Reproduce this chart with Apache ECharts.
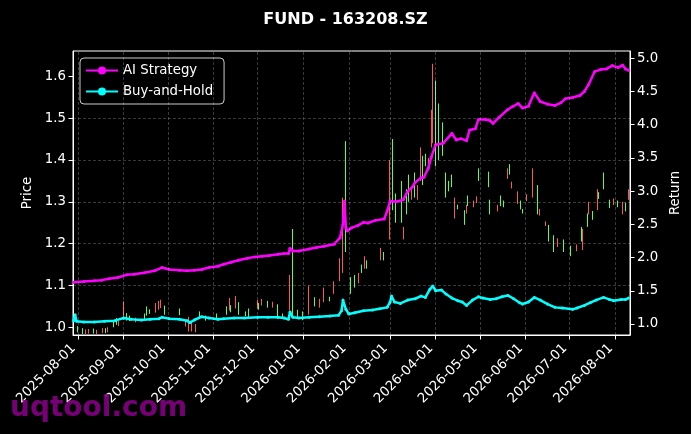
<!DOCTYPE html>
<html><head><meta charset="utf-8">
<script src="https://cdn.jsdelivr.net/npm/echarts@6/dist/echarts.min.js"></script>
<style>html,body{margin:0;padding:0;background:#000}#c{width:691px;height:434px}</style>
</head><body><div id="c"></div>
<script>
const chartTitle = 'FUND - 163208.SZ';
const watermark = 'uqtool.com';
const xTicks = ['2025-08-01','2025-09-01','2025-10-01','2025-11-01','2025-12-01','2026-01-01','2026-02-01','2026-03-01','2026-04-01','2026-05-01','2026-06-01','2026-07-01','2026-08-01'];
const priceTicks = [1.0,1.1,1.2,1.3,1.4,1.5,1.6];
const returnTicks = [1.0,1.5,2.0,2.5,3.0,3.5,4.0,4.5,5.0];

const candleDates = ['2025-08-01','2025-08-04','2025-08-06','2025-08-08','2025-08-12','2025-08-14','2025-08-18','2025-08-20','2025-08-21','2025-08-25','2025-08-27','2025-08-29',
'2025-09-01','2025-09-03','2025-09-05','2025-09-09','2025-09-15','2025-09-17','2025-09-19','2025-09-23','2025-09-25','2025-09-26','2025-09-29',
'2025-10-09','2025-10-13','2025-10-15','2025-10-17','2025-10-20','2025-10-23','2025-10-27',
'2025-11-03','2025-11-10','2025-11-12','2025-11-13','2025-11-16','2025-11-18','2025-11-23','2025-11-25',
'2025-12-01','2025-12-02','2025-12-04','2025-12-08','2025-12-11','2025-12-15','2025-12-18','2025-12-23','2025-12-25','2025-12-28',
'2026-01-01','2026-01-05','2026-01-09','2026-01-12','2026-01-15','2026-01-19','2026-01-22','2026-01-26','2026-01-28','2026-01-30',
'2026-02-02','2026-02-05','2026-02-08','2026-02-10','2026-02-12','2026-02-13','2026-02-23','2026-02-25',
'2026-03-01','2026-03-03','2026-03-05','2026-03-09','2026-03-10','2026-03-12','2026-03-14','2026-03-16','2026-03-18','2026-03-20','2026-03-22','2026-03-23','2026-03-25','2026-03-27','2026-03-29','2026-03-30',
'2026-04-01','2026-04-03','2026-04-06','2026-04-08','2026-04-10','2026-04-12','2026-04-14','2026-04-16','2026-04-21','2026-04-22','2026-04-23','2026-04-27','2026-04-29','2026-04-30',
'2026-05-07','2026-05-08','2026-05-13','2026-05-15','2026-05-17','2026-05-20','2026-05-21','2026-05-23','2026-05-27','2026-05-29','2026-05-30',
'2026-06-02','2026-06-06','2026-06-09','2026-06-11','2026-06-15','2026-06-17','2026-06-20','2026-06-23','2026-06-27',
'2026-07-02','2026-07-06','2026-07-09','2026-07-10','2026-07-13','2026-07-14','2026-07-17','2026-07-20','2026-07-21','2026-07-24','2026-07-28','2026-07-31',
'2026-08-03','2026-08-06','2026-08-08','2026-08-10'];
const candleOpen = [1.000,0.995,0.985,0.987,0.995,0.986,0.988,0.996,0.990,1.012,1.020,1.005,
1.030,1.030,1.025,1.015,1.030,1.045,1.040,1.040,1.045,1.050,1.050,
1.040,1.005,0.998,0.995,0.997,1.035,1.025,
1.030,1.045,1.045,1.050,1.050,1.055,1.035,1.040,
1.050,1.055,1.055,1.060,1.050,1.050,1.030,1.060,1.150,1.040,
1.035,1.040,1.070,1.050,1.070,1.070,1.090,1.120,1.160,1.300,
1.110,1.120,1.110,1.145,1.145,1.155,1.170,1.175,
1.220,1.400,1.300,1.330,1.215,1.320,1.360,1.310,1.350,1.310,1.360,1.400,1.410,1.380,1.450,1.470,
1.570,1.520,1.470,1.360,1.345,1.360,1.270,1.290,1.270,1.275,1.310,1.290,1.300,1.375,
1.370,1.300,1.280,1.310,1.300,1.360,1.380,1.335,1.300,1.300,1.280,
1.305,1.320,1.330,1.270,1.245,1.240,1.215,1.195,1.205,
1.190,1.185,1.235,1.190,1.270,1.280,1.275,1.285,1.320,1.360,1.300,1.295,
1.300,1.275,1.295,1.310];
const candleClose = [0.992,0.988,0.992,0.993,0.988,0.992,0.995,0.989,0.998,1.004,1.010,1.012,
1.055,1.020,1.018,1.020,1.020,1.030,1.035,1.055,1.060,1.065,1.035,
1.030,1.015,1.020,1.010,1.005,1.025,1.020,
1.022,1.035,1.065,1.040,1.070,1.035,1.030,1.030,
1.060,1.045,1.065,1.050,1.058,1.030,1.025,1.110,1.050,1.025,
1.020,1.080,1.055,1.065,1.090,1.065,1.105,1.155,1.290,1.200,
1.085,1.100,1.125,1.135,1.165,1.145,1.185,1.165,
1.380,1.300,1.270,1.270,1.235,1.280,1.310,1.325,1.330,1.330,1.420,1.350,1.390,1.400,1.510,1.600,
1.420,1.440,1.430,1.320,1.330,1.340,1.300,1.285,1.250,1.290,1.295,1.300,1.310,1.355,
1.345,1.280,1.290,1.295,1.290,1.375,1.370,1.345,1.320,1.285,1.275,
1.315,1.370,1.290,1.280,1.250,1.215,1.190,1.210,1.185,
1.175,1.195,1.215,1.230,1.245,1.295,1.260,1.320,1.310,1.335,1.290,1.305,
1.290,1.295,1.280,1.325];
const candleLow = [0.988,0.984,0.983,0.985,0.985,0.984,0.986,0.986,0.988,1.000,1.006,1.003,
1.025,1.016,1.015,1.012,1.017,1.028,1.032,1.035,1.042,1.046,1.030,
1.029,1.002,0.990,0.990,0.988,1.020,1.016,
1.018,1.030,1.040,1.036,1.045,1.030,1.027,1.025,
1.045,1.042,1.052,1.047,1.047,1.020,1.022,1.040,1.030,1.020,
1.017,1.030,1.050,1.047,1.060,1.062,1.080,1.110,1.130,1.180,
1.080,1.095,1.105,1.130,1.140,1.140,1.160,1.160,
1.210,1.280,1.250,1.250,1.210,1.270,1.300,1.305,1.310,1.305,1.350,1.340,1.385,1.375,1.430,1.440,
1.385,1.400,1.410,1.310,1.325,1.335,1.260,1.282,1.245,1.272,1.290,1.287,1.297,1.350,
1.335,1.270,1.277,1.290,1.287,1.355,1.365,1.332,1.295,1.282,1.272,
1.302,1.310,1.270,1.267,1.242,1.205,1.180,1.192,1.180,
1.170,1.182,1.205,1.185,1.240,1.270,1.257,1.280,1.307,1.330,1.285,1.292,
1.287,1.270,1.277,1.305];
const candleHigh = [1.003,0.998,0.995,0.996,0.997,0.994,0.998,0.998,1.000,1.015,1.022,1.015,
1.062,1.034,1.028,1.023,1.033,1.050,1.043,1.058,1.063,1.066,1.052,
1.045,1.018,1.025,1.015,1.008,1.038,1.028,
1.033,1.050,1.070,1.053,1.075,1.060,1.038,1.045,
1.065,1.058,1.068,1.063,1.061,1.055,1.033,1.125,1.235,1.042,
1.038,1.100,1.072,1.068,1.095,1.073,1.110,1.165,1.310,1.445,
1.120,1.125,1.130,1.150,1.170,1.160,1.190,1.180,
1.400,1.450,1.320,1.350,1.240,1.330,1.365,1.330,1.370,1.340,1.430,1.410,1.415,1.405,1.520,1.630,
1.590,1.535,1.490,1.370,1.350,1.365,1.310,1.293,1.280,1.293,1.315,1.303,1.313,1.380,
1.372,1.305,1.293,1.315,1.303,1.380,1.390,1.348,1.325,1.303,1.283,
1.318,1.380,1.340,1.283,1.253,1.245,1.220,1.213,1.210,
1.195,1.198,1.240,1.235,1.272,1.300,1.278,1.330,1.323,1.370,1.305,1.308,
1.303,1.300,1.298,1.330];

const aiDates = ['2025-07-29','2025-08-05','2025-08-12','2025-08-17','2025-08-22','2025-08-28','2025-09-03','2025-09-08','2025-09-15','2025-09-22','2025-09-27',
'2025-10-02','2025-10-09','2025-10-14','2025-10-19','2025-10-24','2025-10-29','2025-11-04','2025-11-08','2025-11-13','2025-11-18','2025-11-24','2025-11-29',
'2025-12-04','2025-12-09','2025-12-15','2025-12-19','2025-12-22','2025-12-23','2025-12-25','2025-12-29',
'2026-01-05','2026-01-10','2026-01-15','2026-01-22','2026-01-26','2026-01-28','2026-01-29','2026-01-30','2026-01-31',
'2026-02-03','2026-02-07','2026-02-11','2026-02-14','2026-02-19','2026-02-25','2026-02-27',
'2026-03-01','2026-03-05','2026-03-10','2026-03-13','2026-03-16','2026-03-18','2026-03-22','2026-03-24','2026-03-27','2026-03-29',
'2026-04-01','2026-04-06','2026-04-12','2026-04-15','2026-04-18','2026-04-22','2026-04-24','2026-04-28','2026-04-30',
'2026-05-05','2026-05-08','2026-05-10','2026-05-14','2026-05-20','2026-05-23','2026-05-27','2026-05-30',
'2026-06-03','2026-06-07','2026-06-11','2026-06-16','2026-06-21','2026-06-25','2026-06-28',
'2026-07-03','2026-07-08','2026-07-11','2026-07-14','2026-07-18','2026-07-22','2026-07-26','2026-07-30',
'2026-08-03','2026-08-06','2026-08-08','2026-08-10'];
const aiValues = [1.63,1.64,1.65,1.66,1.68,1.70,1.74,1.75,1.77,1.80,1.85,
1.82,1.81,1.80,1.81,1.82,1.85,1.87,1.90,1.93,1.96,1.99,2.01,
2.02,2.03,2.05,2.06,2.06,2.14,2.10,2.10,
2.13,2.15,2.17,2.20,2.30,2.50,2.85,2.45,2.40,
2.45,2.48,2.53,2.52,2.56,2.58,2.70,
2.85,2.84,2.87,3.00,3.06,3.13,3.20,3.21,3.35,3.51,
3.70,3.72,3.87,3.77,3.79,3.76,3.92,3.94,4.08,
4.08,4.06,4.02,4.11,4.23,4.27,4.32,4.25,
4.28,4.48,4.35,4.31,4.29,4.33,4.39,
4.41,4.44,4.50,4.61,4.80,4.83,4.84,4.89,
4.86,4.90,4.84,4.82];

const bhDates = ['2025-07-29','2025-07-30','2025-07-31','2025-08-05','2025-08-12','2025-08-19','2025-08-26','2025-09-01','2025-09-06','2025-09-13','2025-09-19','2025-09-25','2025-09-27',
'2025-10-02','2025-10-09','2025-10-14','2025-10-16','2025-10-19','2025-10-24','2025-10-29','2025-11-04','2025-11-08','2025-11-15','2025-11-22',
'2025-12-01','2025-12-08','2025-12-15','2025-12-19','2025-12-22','2025-12-23','2025-12-25','2025-12-29',
'2026-01-05','2026-01-12','2026-01-19','2026-01-25','2026-01-27','2026-01-28','2026-01-30','2026-02-01','2026-02-05','2026-02-11','2026-02-17','2026-02-22','2026-02-27',
'2026-03-01','2026-03-02','2026-03-04','2026-03-08','2026-03-13','2026-03-18','2026-03-22','2026-03-25','2026-03-28','2026-03-30',
'2026-04-01','2026-04-05','2026-04-08','2026-04-12','2026-04-16','2026-04-19','2026-04-22','2026-04-26','2026-04-30',
'2026-05-03','2026-05-08','2026-05-12','2026-05-16','2026-05-20','2026-05-24','2026-05-28','2026-05-30',
'2026-06-03','2026-06-07','2026-06-11','2026-06-16','2026-06-21','2026-06-26',
'2026-07-03','2026-07-06','2026-07-11','2026-07-15','2026-07-19','2026-07-24','2026-07-28','2026-07-31',
'2026-08-05','2026-08-08','2026-08-10'];
const bhValues = [1.05,1.14,1.04,1.03,1.03,1.04,1.05,1.09,1.07,1.06,1.07,1.08,1.10,
1.08,1.07,1.05,1.02,1.06,1.11,1.09,1.07,1.08,1.09,1.09,
1.10,1.10,1.10,1.09,1.07,1.18,1.10,1.09,
1.10,1.11,1.12,1.13,1.20,1.36,1.22,1.15,1.17,1.20,1.21,1.23,1.25,
1.33,1.42,1.33,1.31,1.36,1.38,1.42,1.40,1.52,1.57,
1.50,1.51,1.45,1.39,1.35,1.33,1.28,1.36,1.41,
1.39,1.37,1.38,1.41,1.43,1.38,1.32,1.30,
1.33,1.40,1.36,1.30,1.25,1.24,
1.22,1.24,1.28,1.32,1.36,1.40,1.37,1.35,
1.37,1.37,1.39];

function toTs(s){const p=s.split('-').map(Number);return new Date(p[0],p[1]-1,p[2]).getTime();}
function fmt(v){const d=new Date(v);const m=d.getMonth()+1,dd=d.getDate();return d.getFullYear()+'-'+(m<10?'0':'')+m+'-'+(dd<10?'0':'')+dd;}

const candleData = candleDates.map((d,i)=>[toTs(d),candleOpen[i],candleClose[i],candleLow[i],candleHigh[i]]);
const aiData = aiDates.map((d,i)=>[toTs(d),aiValues[i]]);
const bhData = bhDates.map((d,i)=>[toTs(d),bhValues[i]]);
const xTickTs = xTicks.map(toTs);

const FONT = 'DejaVu Sans';
const UP = '#ff5555', DOWN = '#55ff55';
const gridStyle = {color:'rgba(255,255,255,0.28)', width:0.8, type:[3,2]};

const chart = echarts.init(document.getElementById('c'), null, {renderer:'canvas'});
chart.setOption({
  backgroundColor:'#000',
  animation:false,
  textStyle:{fontFamily:FONT},
  title:{text:chartTitle, left:'center', top:7, textStyle:{color:'#fff', fontSize:16, fontWeight:'bold', fontFamily:FONT}},
  legend:{
    data:['AI Strategy','Buy-and-Hold'], orient:'vertical', left:80, top:58,
    padding:[6,11,6,5], itemGap:8, itemWidth:32, itemHeight:10,
    backgroundColor:'rgba(0,0,0,0.8)', borderColor:'#cccccc', borderWidth:1, borderRadius:4,
    textStyle:{color:'#fff', fontSize:13.3, fontFamily:FONT}
  },
  grid:{left:73, top:51, width:557, height:284, show:true, borderColor:'#fff', borderWidth:1, backgroundColor:'transparent'},
  xAxis:{
    type:'value', min:toTs('2025-07-28')+14*3600e3, max:toTs('2026-08-11'),
    axisLine:{show:true, lineStyle:{color:'#fff'}},
    axisTick:{show:true, customValues:xTickTs, length:4.5, lineStyle:{color:'#fff'}},
    axisLabel:{customValues:xTickTs, formatter:(v)=>fmt(v), rotate:45, color:'#fff', fontSize:13.3, fontFamily:FONT, margin:16, verticalAlign:'bottom', align:'right'},
    splitLine:{show:false}
  },
  yAxis:[{
    type:'value', min:0.9816, max:1.6605, splitNumber:7, position:'left',
    name:'Price', nameLocation:'middle', nameGap:34, nameTextStyle:{color:'#fff', fontSize:13.3, fontFamily:FONT},
    axisLine:{show:true, lineStyle:{color:'#fff'}},
    axisTick:{show:true, customValues:priceTicks, length:4.5, lineStyle:{color:'#fff'}},
    axisLabel:{customValues:priceTicks, formatter:(v)=>v.toFixed(1), color:'#fff', fontSize:13.3, fontFamily:FONT, margin:7},
    splitLine:{show:true, lineStyle:gridStyle, showMinLine:false, showMaxLine:false}
  },{
    type:'value', min:0.834, max:5.11, position:'right',
    name:'Return', nameLocation:'middle', nameGap:34, nameTextStyle:{color:'#fff', fontSize:13.3, fontFamily:FONT},
    axisLine:{show:true, lineStyle:{color:'#fff'}},
    axisTick:{show:true, customValues:returnTicks, length:4.5, lineStyle:{color:'#fff'}},
    axisLabel:{customValues:returnTicks, formatter:(v)=>v.toFixed(1), color:'#fff', fontSize:13.3, fontFamily:FONT, margin:7},
    splitLine:{show:false}
  }],
  series:[{
    type:'candlestick', name:'Price', xAxisIndex:0, yAxisIndex:0, data:candleData,
    encode:{x:0, y:[1,2,3,4]}, barWidth:1,
    itemStyle:{color:UP, color0:DOWN, borderColor:UP, borderColor0:DOWN, borderWidth:1},
    markLine:{silent:true, symbol:'none', label:{show:false}, lineStyle:gridStyle, emphasis:{disabled:true},
      data:xTickTs.map(t=>({xAxis:t}))}
  },{
    type:'line', name:'AI Strategy', yAxisIndex:1, data:aiData, color:'#ff00ff',
    symbol:'circle', symbolSize:3, showSymbol:true, lineStyle:{width:2.5, color:'#ff00ff'}, itemStyle:{color:'#ff00ff'}
  },{
    type:'line', name:'Buy-and-Hold', yAxisIndex:1, data:bhData, color:'#00ffff',
    symbol:'circle', symbolSize:3, showSymbol:true, lineStyle:{width:2.5, color:'#00ffff'}, itemStyle:{color:'#00ffff'}
  }],
  graphic:[{type:'text', z:100, left:10, top:395, style:{text:watermark, fill:'rgba(140,0,140,0.85)', font:'bold 28px "DejaVu Sans"'}}]
});
</script></body></html>
